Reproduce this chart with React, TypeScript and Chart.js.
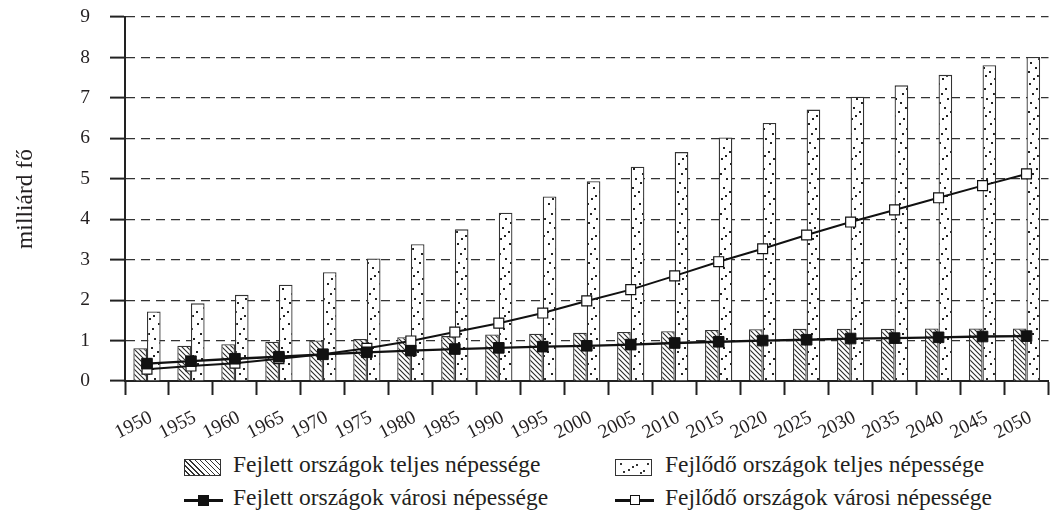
import React, { useEffect, useRef } from "react";
import { Chart, registerables } from "chart.js";

Chart.register(...registerables);

const years = ["1950", "1955", "1960", "1965", "1970", "1975", "1980", "1985", "1990", "1995", "2000", "2005", "2010", "2015", "2020", "2025", "2030", "2035", "2040", "2045", "2050"];
const developedTotal = [0.81, 0.87, 0.91, 0.97, 1.0, 1.04, 1.08, 1.11, 1.15, 1.17, 1.19, 1.21, 1.23, 1.26, 1.28, 1.29, 1.29, 1.29, 1.3, 1.3, 1.3];
const developingTotal = [1.72, 1.92, 2.13, 2.38, 2.69, 3.03, 3.38, 3.75, 4.16, 4.56, 4.94, 5.3, 5.66, 6.02, 6.38, 6.71, 7.03, 7.31, 7.57, 7.81, 8.01];
const developedUrban = [0.43, 0.49, 0.55, 0.6, 0.66, 0.71, 0.75, 0.79, 0.82, 0.85, 0.87, 0.9, 0.94, 0.97, 1.0, 1.02, 1.05, 1.06, 1.08, 1.1, 1.11];
const developingUrban = [0.29, 0.37, 0.44, 0.55, 0.66, 0.81, 0.99, 1.21, 1.43, 1.68, 1.98, 2.26, 2.6, 2.95, 3.27, 3.61, 3.93, 4.23, 4.53, 4.83, 5.12];

const yMin = 0;
const yMax = 9;
const yStep = 1;
const yTitle = "milliárd fő";

const nameDevelopedTotal = "Fejlett országok teljes népessége";
const nameDevelopingTotal = "Fejlődő országok teljes népessége";
const nameDevelopedUrban = "Fejlett országok városi népessége";
const nameDevelopingUrban = "Fejlődő országok városi népessége";

const FONT = "'Liberation Serif', 'Times New Roman', serif";
const INK = "#231f20";
const CANVAS_W = 1057;
const CANVAS_H = 450;
const AXIS_Y = 381;
const AXIS_X = 125;

function makeHatch(): CanvasPattern | string {
  const c = document.createElement("canvas");
  const s = 5;
  c.width = s;
  c.height = s;
  const g = c.getContext("2d");
  if (!g) return "#fff";
  g.fillStyle = "#fff";
  g.fillRect(0, 0, s, s);
  g.strokeStyle = "#2a2a2a";
  g.lineWidth = 1.1;
  g.beginPath();
  g.moveTo(-1, -1);
  g.lineTo(s + 1, s + 1);
  g.moveTo(-1, s - 1);
  g.lineTo(1, s + 1);
  g.moveTo(s - 1, -1);
  g.lineTo(s + 1, 1);
  g.stroke();
  return g.createPattern(c, "repeat") || "#fff";
}

const dotSpots = [
  [2, 3], [9, 8], [5, 13], [11, 18], [3, 22], [8, 27], [1, 31], [10, 35], [6, 38],
];

function makeDots(): CanvasPattern | string {
  const c = document.createElement("canvas");
  c.width = 13;
  c.height = 40;
  const g = c.getContext("2d");
  if (!g) return "#fff";
  g.fillStyle = "#fff";
  g.fillRect(0, 0, c.width, c.height);
  g.fillStyle = "#222";
  dotSpots.forEach(([x, y]) => g.fillRect(x, y, 2, 2));
  return g.createPattern(c, "repeat") || "#fff";
}

function Legend() {
  const textStyle: React.CSSProperties = {
    position: "absolute",
    fontFamily: FONT,
    fontSize: "23.5px",
    lineHeight: "27px",
    color: INK,
    whiteSpace: "nowrap",
  };
  const swatch: React.CSSProperties = {
    position: "absolute",
    width: 37,
    height: 17,
    border: "1.3px solid #333",
    boxSizing: "border-box",
    background: "#fff",
  };
  const lineSym = (left: number, top: number, filled: boolean) => (
    <div style={{ position: "absolute", left, top, width: 39, height: 12 }}>
      <div style={{ position: "absolute", left: 0, top: 5, width: 39, height: 2.5, background: "#111" }} />
      <div
        style={{
          position: "absolute",
          left: filled ? 14 : 14.5,
          top: filled ? 0.5 : 1,
          width: filled ? 11 : 10,
          height: filled ? 11 : 10,
          boxSizing: "border-box",
          background: filled ? "#111" : "#fff",
          border: "1.3px solid #111",
        }}
      />
    </div>
  );
  const dots = [
    [4, 3], [12, 9], [20, 4], [27, 10], [31, 3], [7, 11], [24, 12], [16, 6],
  ];
  return (
    <>
      <div
        style={{
          ...swatch,
          left: 184,
          top: 459,
          background: "repeating-linear-gradient(45deg, #fff 0px, #fff 2.6px, #333 2.6px, #333 3.6px)",
        }}
      />
      <div style={{ ...textStyle, left: 233, top: 451 }}>{nameDevelopedTotal}</div>
      <div style={{ ...swatch, left: 615, top: 459 }}>
        {dots.map(([x, y], i) => (
          <span
            key={i}
            style={{ position: "absolute", left: x, top: y, width: 2, height: 2, background: "#333" }}
          />
        ))}
      </div>
      <div style={{ ...textStyle, left: 665, top: 451 }}>{nameDevelopingTotal}</div>
      {lineSym(184, 494, true)}
      <div style={{ ...textStyle, left: 233, top: 484 }}>{nameDevelopedUrban}</div>
      {lineSym(615, 494, false)}
      <div style={{ ...textStyle, left: 665, top: 484 }}>{nameDevelopingUrban}</div>
    </>
  );
}

export default function App() {
  const ref = useRef<HTMLCanvasElement | null>(null);

  useEffect(() => {
    if (!ref.current) return;
    const hatch = makeHatch();
    const dots = makeDots();
    const chart = new Chart(ref.current, {
      type: "bar",
      data: {
        labels: years,
        datasets: [
          {
            type: "line",
            label: nameDevelopedUrban,
            data: developedUrban,
            borderColor: "#111",
            borderWidth: 2.3,
            pointStyle: "rect",
            pointRadius: 7.5,
            pointBackgroundColor: "#111",
            pointBorderColor: "#111",
            pointBorderWidth: 1,
            tension: 0,
            order: 0,
          } as any,
          {
            type: "line",
            label: nameDevelopingUrban,
            data: developingUrban,
            borderColor: "#111",
            borderWidth: 2,
            pointStyle: "rect",
            pointRadius: 7,
            pointBackgroundColor: "#fff",
            pointBorderColor: "#111",
            pointBorderWidth: 1.2,
            tension: 0,
            order: 1,
          } as any,
          {
            type: "bar",
            label: nameDevelopedTotal,
            data: developedTotal,
            backgroundColor: hatch as any,
            borderColor: "#333",
            borderWidth: 1.3,
            categoryPercentage: 0.62,
            barPercentage: 1,
            order: 2,
          } as any,
          {
            type: "bar",
            label: nameDevelopingTotal,
            data: developingTotal,
            backgroundColor: dots as any,
            borderColor: "#333",
            borderWidth: 1.3,
            categoryPercentage: 0.62,
            barPercentage: 1,
            order: 3,
          } as any,
        ],
      },
      options: {
        animation: false,
        responsive: false,
        devicePixelRatio: 1,
        layout: { padding: { top: 17, left: 0, right: 0, bottom: 0 } },
        plugins: {
          legend: { display: false },
          tooltip: { enabled: false },
        },
        scales: {
          x: {
            grid: {
              display: true,
              drawOnChartArea: false,
              drawTicks: true,
              tickLength: 14,
              tickWidth: 2,
              tickColor: "#222",
              offset: true,
            },
            border: { display: true, color: "#222", width: 2 },
            ticks: {
              font: { family: FONT, size: 19.5 },
              color: INK,
              minRotation: 27,
              maxRotation: 27,
              padding: 11,
              labelOffset: 4,
              autoSkip: false,
            },
            afterFit: (s: any) => {
              s.height = CANVAS_H - AXIS_Y;
              s.paddingLeft = 0;
              s.paddingRight = 0;
            },
          },
          y: {
            min: yMin,
            max: yMax,
            ticks: {
              stepSize: yStep,
              font: { family: FONT, size: 19.5 },
              color: INK,
              padding: 20,
            },
            grid: {
              color: "#333",
              lineWidth: 1.2,
              tickLength: 15,
              tickWidth: 2,
              tickColor: "#222",
              tickBorderDash: [],
            },
            border: { display: true, color: "#222", width: 2, dash: [9, 6] },
            title: {
              display: true,
              text: yTitle,
              font: { family: FONT, size: 23.5 },
              color: INK,
              padding: { top: 12, bottom: 0 },
            },
            afterFit: (s: any) => {
              s.width = AXIS_X;
              s.paddingTop = 0;
              s.paddingBottom = 0;
            },
          },
        },
      } as any,
    });
    return () => chart.destroy();
  }, []);

  return (
    <div style={{ position: "absolute", left: 0, top: 0, width: CANVAS_W, height: 515, background: "#fff" }}>
      <canvas ref={ref} width={CANVAS_W} height={CANVAS_H} style={{ position: "absolute", left: 0, top: 0, width: CANVAS_W, height: CANVAS_H }} />
      <Legend />
    </div>
  );
}
